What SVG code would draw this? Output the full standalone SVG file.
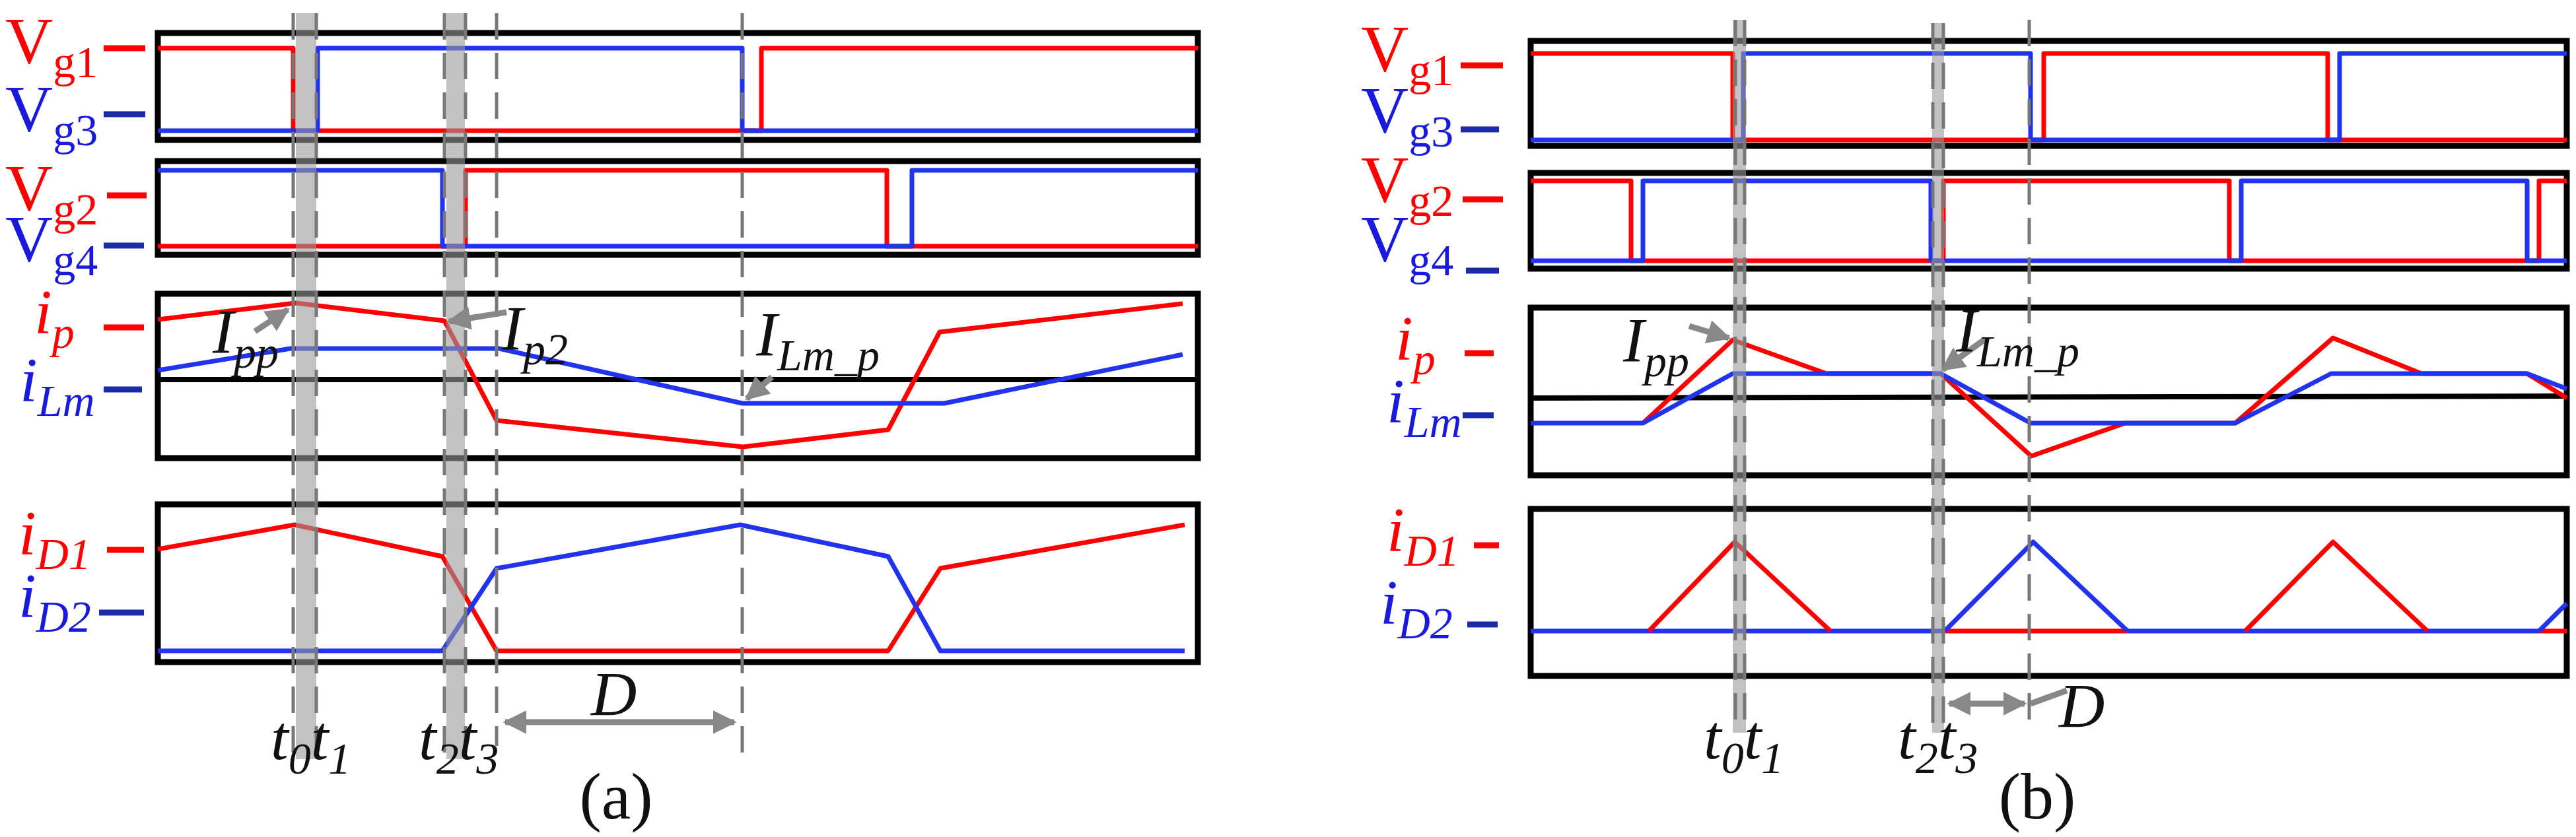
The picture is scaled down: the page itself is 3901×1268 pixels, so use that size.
<svg xmlns="http://www.w3.org/2000/svg" width="3901" height="1268" viewBox="0 0 3901 1268">
<style>
.box{fill:none;stroke:#000;stroke-width:9}
.r{fill:none;stroke:#f00;stroke-width:7;stroke-linejoin:round}
.b{fill:none;stroke:#2233ee;stroke-width:7;stroke-linejoin:round}
.band{fill:#999;opacity:0.6}
.dash{stroke:#777;stroke-width:5;stroke-dasharray:40 20;fill:none}
.ga{stroke:#888;stroke-width:9;fill:none}
.t{font-family:"Liberation Serif",serif;font-size:100px}
.ti{font-family:"Liberation Serif",serif;font-size:96px;font-style:italic}
.s{font-size:68px}
.red{fill:#f00}.blu{fill:#1a1add}.blk{fill:#111}
.tr{stroke:#f00;stroke-width:9}.tb{stroke:#1a2aaa;stroke-width:9}
</style>
<defs>
<marker id="ah" viewBox="0 0 10 10" refX="9" refY="5" markerWidth="4" markerHeight="4" orient="auto-start-reverse"><path d="M0,0L10,5L0,10z" fill="#888"/></marker>
</defs>
<g id="panel-a">
<rect class="box" x="239" y="50" width="1575" height="162"/>
<rect class="box" x="239" y="244" width="1575" height="142"/>
<rect class="box" x="239" y="445" width="1575" height="249"/>
<line x1="239" y1="575" x2="1814" y2="575" stroke="#000" stroke-width="8"/>
<rect class="box" x="239" y="764" width="1575" height="239"/>
<polyline class="r" points="239,73 444,73 444,198 1153,198 1153,73 1814,73"/>
<polyline class="b" points="239,198 481,198 481,73 1124,73 1124,198 1814,198"/>
<polyline class="r" points="239,373 705,373 705,258 1343,258 1343,373 1814,373"/>
<polyline class="b" points="239,258 670,258 670,373 1381,373 1381,258 1814,258"/>
<polyline class="r" points="239,484 448,459 673,486 752,637 1125,677 1345,651 1423,503 1791,460"/>
<polyline class="b" points="239,561 440,528 756,528 1124,611 1430,611 1791,537"/>
<polyline class="r" points="239,832 446,795 670,843 752,986 1345,986 1424,861 1794,795"/>
<polyline class="b" points="239,986 670,986 752,861 1121,795 1345,843 1424,986 1794,986"/>
<rect class="band" x="448" y="20" width="31" height="1130"/>
<rect class="band" x="676" y="20" width="28" height="1130"/>
<path class="dash" d="M444,20V1150M479,20V1150M673,20V1150M705,20V1150M752,20V1130M1124,20V1160"/>
<line class="ga" x1="765" y1="1094" x2="1112" y2="1094" marker-start="url(#ah)" marker-end="url(#ah)"/>
<line class="ga" x1="386" y1="502" x2="436" y2="469" marker-end="url(#ah)"/>
<line class="ga" x1="767" y1="473" x2="680" y2="487" marker-end="url(#ah)"/>
<line class="ga" x1="1169" y1="571" x2="1131" y2="604" marker-end="url(#ah)"/>
<text class="t red" x="8" y="95">V<tspan class="s" dy="22">g1</tspan></text>
<text class="t blu" x="8" y="198">V<tspan class="s" dy="22">g3</tspan></text>
<text class="t red" x="8" y="318">V<tspan class="s" dy="22">g2</tspan></text>
<text class="t blu" x="8" y="395">V<tspan class="s" dy="22">g4</tspan></text>
<text class="ti red" x="52" y="505">i<tspan class="s" dy="22">p</tspan></text>
<text class="ti blu" x="30" y="608">i<tspan class="s" dy="22">Lm</tspan></text>
<text class="ti red" x="28" y="840">i<tspan class="s" dy="22">D1</tspan></text>
<text class="ti blu" x="28" y="935">i<tspan class="s" dy="22">D2</tspan></text>
<path class="tr" d="M157,73H220M162,296H222M157,496H218M162,833H218"/>
<path class="tb" d="M157,173H220M157,372H218M157,590H215M150,928H218"/>
<text class="ti blk" x="322" y="535">I<tspan class="s" dy="22">pp</tspan></text>
<text class="ti blk" x="760" y="530">I<tspan class="s" dy="22">p2</tspan></text>
<text class="ti blk" x="1145" y="539">I<tspan class="s" dy="22">Lm_p</tspan></text>
<text class="ti blk" x="410" y="1150">t<tspan class="s" dy="22">0</tspan><tspan dy="-22">t</tspan><tspan class="s" dy="22">1</tspan></text>
<text class="ti blk" x="634" y="1150">t<tspan class="s" dy="22">2</tspan><tspan dy="-22">t</tspan><tspan class="s" dy="22">3</tspan></text>
<text class="ti blk" x="895" y="1084">D</text>
<text class="t blk" x="933" y="1240" text-anchor="middle">(a)</text>
</g>
<g id="panel-b">
<rect class="box" x="2318" y="62" width="1569" height="159"/>
<rect class="box" x="2318" y="262" width="1569" height="145"/>
<rect class="box" x="2318" y="466" width="1569" height="254"/>
<line x1="2318" y1="603" x2="3887" y2="600" stroke="#000" stroke-width="8"/>
<rect class="box" x="2318" y="771" width="1569" height="253"/>
<polyline class="r" points="2318,81 2624,81 2624,212 3095,212 3095,81 3525,81 3525,212 3887,212"/>
<polyline class="b" points="2318,212 2640,212 2640,81 3075,81 3075,212 3543,212 3543,81 3887,81"/>
<polyline class="r" points="2318,274 2470,274 2470,395 2943,395 2943,274 3376,274 3376,395 3845,395 3845,274 3887,274"/>
<polyline class="b" points="2318,395 2488,395 2488,274 2924,274 2924,395 3394,395 3394,274 3827,274 3827,395 3887,395"/>
<polyline class="r" points="2488,641 2624,515 2766,566 2939,566 3076,691 3218,641 3385,641 3533,512 3667,566 3827,566 3887,603"/>
<polyline class="b" points="2318,641 2488,641 2624,566 2939,566 3075,641 3385,641 3530,566 3827,566 3887,589"/>
<polyline class="r" points="2945,956 3222,956"/>
<polyline class="b" points="2318,956 2945,956"/>
<polyline class="b" points="3222,956 3845,956"/>
<polyline class="r" points="3845,956 3887,956"/>
<polyline class="r" points="2497,956 2627,821 2772,956"/>
<polyline class="r" points="3400,956 3533,821 3676,956"/>
<polyline class="b" points="2945,956 3079,821 3222,956"/>
<polyline class="b" points="3845,956 3887,914"/>
<rect class="band" x="2624" y="30" width="20" height="1080"/>
<rect class="band" x="2926" y="35" width="18" height="1075"/>
<path class="dash" d="M2628,30V1110M2642,30V1110M2927,35V1110M2943,35V1110M3073,30V1110"/>
<line class="ga" x1="2952" y1="1066" x2="3066" y2="1066" marker-start="url(#ah)" marker-end="url(#ah)"/>
<line class="ga" x1="3130" y1="1046" x2="3075" y2="1066"/>
<line class="ga" x1="2558" y1="494" x2="2618" y2="512" marker-end="url(#ah)"/>
<line class="ga" x1="3006" y1="514" x2="2942" y2="560" marker-end="url(#ah)"/>
<text class="t red" x="2061" y="107">V<tspan class="s" dy="22">g1</tspan></text>
<text class="t blu" x="2061" y="200">V<tspan class="s" dy="22">g3</tspan></text>
<text class="t red" x="2061" y="305">V<tspan class="s" dy="22">g2</tspan></text>
<text class="t blu" x="2061" y="395">V<tspan class="s" dy="22">g4</tspan></text>
<text class="ti red" x="2113" y="545">i<tspan class="s" dy="22">p</tspan></text>
<text class="ti blu" x="2100" y="640">i<tspan class="s" dy="22">Lm</tspan></text>
<text class="ti red" x="2100" y="835">i<tspan class="s" dy="22">D1</tspan></text>
<text class="ti blu" x="2090" y="945">i<tspan class="s" dy="22">D2</tspan></text>
<path class="tr" d="M2212,99H2276M2215,302H2276M2218,535H2262M2232,826H2270"/>
<path class="tb" d="M2212,196H2270M2220,410H2270M2215,629H2262M2222,946H2268"/>
<text class="ti blk" x="2458" y="548">I<tspan class="s" dy="22">pp</tspan></text>
<text class="ti blk" x="2962" y="533">I<tspan class="s" dy="22">Lm_p</tspan></text>
<text class="ti blk" x="2580" y="1149">t<tspan class="s" dy="22">0</tspan><tspan dy="-22">t</tspan><tspan class="s" dy="22">1</tspan></text>
<text class="ti blk" x="2874" y="1149">t<tspan class="s" dy="22">2</tspan><tspan dy="-22">t</tspan><tspan class="s" dy="22">3</tspan></text>
<text class="ti blk" x="3118" y="1102">D</text>
<text class="t blk" x="3085" y="1240" text-anchor="middle">(b)</text>
</g>
</svg>
